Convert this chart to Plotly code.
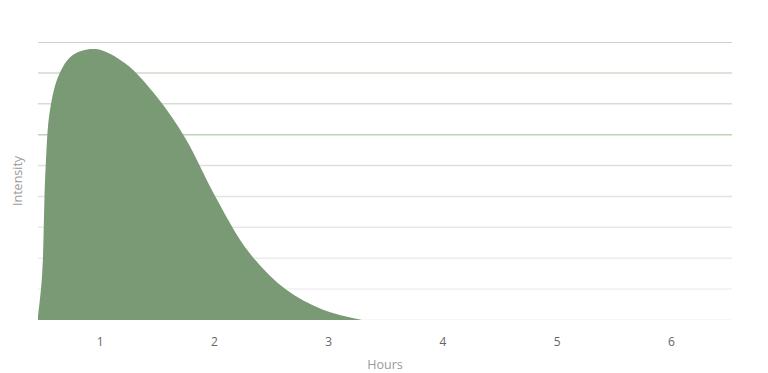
import plotly.graph_objects as go

hours = [0.45, 0.49, 0.52, 0.56, 0.64, 0.76, 0.96, 1.22, 1.50, 1.75, 2.0, 2.30, 2.62, 2.95, 3.29]
intensity = [0, 1.4, 4.8, 6.8, 7.95, 8.58, 8.77, 8.3, 7.2, 5.85, 4.05, 2.2, 1.0, 0.33, 0]

x_ticks = [1, 2, 3, 4, 5, 6]
grid_values = [1, 2, 3, 4, 5, 6, 7, 8, 9]
grid_colors = ["#f0f0f0", "#ececec", "#e6e9e5", "#e0e6de", "#dbe3d8", "#bdd2b9", "#d4ded1", "#d1dbce", "#b9c9b6"]

fig = go.Figure()
fig.add_trace(go.Scatter(
    x=hours, y=intensity, mode="lines", line=dict(shape="spline", smoothing=1.0, width=0, color="#7a9a76"),
    fill="tozeroy", fillcolor="#7a9a76", hoverinfo="skip", showlegend=False,
))

for v, c in zip(grid_values, grid_colors):
    fig.add_shape(type="line", xref="paper", yref="y", x0=0, x1=1, y0=v, y1=v,
                  line=dict(color=c, width=1.5), layer="below")
fig.add_shape(type="line", xref="paper", yref="y", x0=0, x1=1, y0=0, y1=0,
              line=dict(color="#f4f4f4", width=1.5), layer="below")

fig.add_annotation(text="Intensity", textangle=-90, xref="paper", yref="paper", x=0, y=0.5,
                   xanchor="center", yanchor="middle", xshift=-21, showarrow=False,
                   font=dict(size=12.5, color="#999999"))

fig.update_layout(
    width=768, height=373,
    margin=dict(l=30, r=44, t=34, b=61),
    paper_bgcolor="white", plot_bgcolor="white",
    font=dict(family="Open Sans, sans-serif"),
    xaxis=dict(range=[0.455, 6.53], tickvals=x_ticks, showgrid=False, zeroline=False, showline=False,
               automargin=False,
               ticks="", ticklabelstandoff=13, tickfont=dict(size=12, color="#666666"),
               title=dict(text="Hours", font=dict(size=12.5, color="#999999"), standoff=11)),
    yaxis=dict(range=[0, 9], showgrid=False, zeroline=False, showline=False, showticklabels=False,
               automargin=False),
)
fig.write_html("out.html")
